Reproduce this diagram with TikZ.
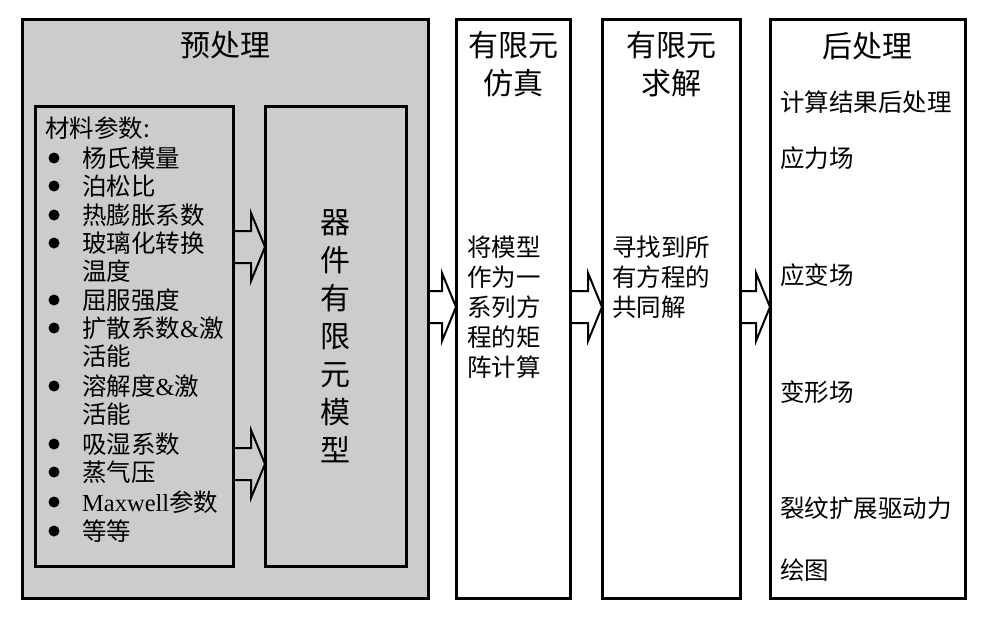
\documentclass[tikz,border=0pt]{standalone}
\usepackage{fontspec}
\setmainfont{Noto Sans CJK SC}
\newfontfamily\latf{Liberation Serif}
\usetikzlibrary{calc}
\definecolor{boxgray}{HTML}{CCCCCC}
\tikzset{
 box/.style={draw=black, line width=3pt, anchor=north west, inner sep=0pt, outer sep=0pt},
 graybox/.style={box, fill=boxgray},
 whitebox/.style={box, fill=white},
 harrow/.style={draw=black, line width=2pt, line join=miter},
 txt/.style={anchor=west, inner sep=0pt, font=\fontsize{24.5}{24.5}\selectfont, text height=21.5pt, text depth=3pt},
 ttl/.style={inner sep=0pt, align=center, font=\fontsize{30}{38}\selectfont},
 bul/.style={circle, fill=black, inner sep=0pt, minimum size=11pt},
}
\newcommand\hollowarrow[3]{%
 \draw[harrow] ($(#1.east |- 0,#3)+(0,-16)$) -- ($(#2.west |- 0,#3)+(-14,-16)$) -- ($(#2.west |- 0,#3)+(-14,-34)$) -- (#2.west |- 0,#3) -- ($(#2.west |- 0,#3)+(-14,34)$) -- ($(#2.west |- 0,#3)+(-14,16)$) -- ($(#1.east |- 0,#3)+(0,16)$);}
\begin{document}
\begin{tikzpicture}[x=1pt,y=-1pt]
\useasboundingbox (0,0) rectangle (982,623);
% boxes
\node[graybox, minimum width=406pt, minimum height=578pt] (pre) at (22,20) {};
\node[graybox, minimum width=198pt, minimum height=459pt] (mat) at (35,107) {};
\node[graybox, minimum width=141pt, minimum height=459pt] (model) at (265,107) {};
\node[whitebox, minimum width=114pt, minimum height=578pt] (sim) at (456,20) {};
\node[whitebox, minimum width=138pt, minimum height=578pt] (sol) at (602,20) {};
\node[whitebox, minimum width=195pt, minimum height=578pt] (post) at (770,20) {};
% titles
\node[ttl] (preT) at (225,45) {预处理};
\node[ttl] (simT) at (513,64) {有限元\\仿真};
\node[ttl] (solT) at (671,64) {有限元\\求解};
\node[ttl] (postT) at (867,46) {后处理};
\node[ttl] (modelT) at (model.center) {器\\件\\有\\限\\元\\模\\型};
% material list
\node[txt] (m0) at (45,128) {材料参数:};
\node[bul] (b1) at (54,158) {}; \node[txt] (m1) at (82,158) {杨氏模量};
\node[bul] (b2) at (54,186) {}; \node[txt] (m2) at (82,186) {泊松比};
\node[bul] (b3) at (54,215) {}; \node[txt] (m3) at (82,215) {热膨胀系数};
\node[bul] (b4) at (54,243) {}; \node[txt] (m4) at (82,243) {玻璃化转换};
\node[txt] (m4b) at (82,271) {温度};
\node[bul] (b5) at (54,300) {}; \node[txt] (m5) at (82,300) {屈服强度};
\node[bul] (b6) at (54,328) {}; \node[txt] (m6) at (82,328) {扩散系数{\latf\&}激};
\node[txt] (m6b) at (82,356) {活能};
\node[bul] (b7) at (54,386) {}; \node[txt] (m7) at (82,386) {溶解度{\latf\&}激};
\node[txt] (m7b) at (82,414) {活能};
\node[bul] (b8) at (54,444) {}; \node[txt] (m8) at (82,444) {吸湿系数};
\node[bul] (b9) at (54,472) {}; \node[txt] (m9) at (82,472) {蒸气压};
\node[bul] (b10) at (54,502) {}; \node[txt] (m10) at (82,502) {{\latf Maxwell}参数};
\node[bul] (b11) at (54,531) {}; \node[txt] (m11) at (82,531) {等等};
% simulation text
\node[txt] (s1) at (467,247) {将模型};
\node[txt] (s2) at (467,277) {作为一};
\node[txt] (s3) at (467,307) {系列方};
\node[txt] (s4) at (467,337) {程的矩};
\node[txt] (s5) at (467,367) {阵计算};
% solve text
\node[txt] (r1) at (612,247) {寻找到所};
\node[txt] (r2) at (612,277) {有方程的};
\node[txt] (r3) at (612,307) {共同解};
% post text
\node[txt] (p1) at (780,102) {计算结果后处理};
\node[txt] (p2) at (780,158) {应力场};
\node[txt] (p3) at (780,275) {应变场};
\node[txt] (p4) at (780,392) {变形场};
\node[txt] (p5) at (780,508) {裂纹扩展驱动力};
\node[txt] (p6) at (780,570) {绘图};
% arrows
\hollowarrow{mat}{model}{247}
\hollowarrow{mat}{model}{464}
\hollowarrow{pre}{sim}{307}
\hollowarrow{sim}{sol}{307}
\hollowarrow{sol}{post}{307}
\end{tikzpicture}
\end{document}
